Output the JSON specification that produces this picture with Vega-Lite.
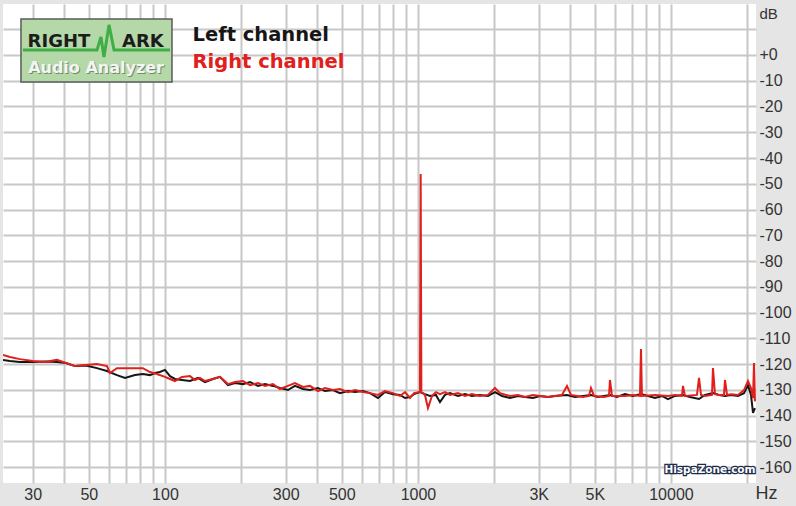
{
  "$schema": "https://vega.github.io/schema/vega-lite/v6.json",
  "width": 753,
  "height": 479,
  "autosize": {"type": "none"},
  "padding": {"left": 3, "top": 4, "right": 40, "bottom": 23},
  "background": "#e5e5e5",
  "config": {"view": {"fill": "white", "stroke": null}},
  "datasets": {
    "spectrum": [
      {"ch":"Left channel","f":22.9,"db":-118.4},{"ch":"Left channel","f":24.4,"db":-118.8},{"ch":"Left channel","f":26.7,"db":-119.2},{"ch":"Left channel","f":30.1,"db":-119.2},{"ch":"Left channel","f":33.5,"db":-119.0},{"ch":"Left channel","f":37.4,"db":-119.2},{"ch":"Left channel","f":40.6,"db":-119.6},{"ch":"Left channel","f":44.1,"db":-120.8},{"ch":"Left channel","f":48.7,"db":-120.6},{"ch":"Left channel","f":53.8,"db":-121.6},{"ch":"Left channel","f":59.0,"db":-122.7},{"ch":"Left channel","f":64.6,"db":-124.3},{"ch":"Left channel","f":69.5,"db":-125.4},{"ch":"Left channel","f":76.1,"db":-124.3},{"ch":"Left channel","f":81.8,"db":-123.9},{"ch":"Left channel","f":87.2,"db":-124.3},{"ch":"Left channel","f":91.3,"db":-123.5},{"ch":"Left channel","f":95.5,"db":-123.1},{"ch":"Left channel","f":100,"db":-122.3},{"ch":"Left channel","f":104.7,"db":-124.7},{"ch":"Left channel","f":109.5,"db":-125.8},{"ch":"Left channel","f":116.7,"db":-126.2},{"ch":"Left channel","f":125.6,"db":-126.6},{"ch":"Left channel","f":135.0,"db":-125.4},{"ch":"Left channel","f":143.9,"db":-127.0},{"ch":"Left channel","f":154.8,"db":-125.8},{"ch":"Left channel","f":165.0,"db":-125.0},{"ch":"Left channel","f":177.4,"db":-128.2},{"ch":"Left channel","f":189.1,"db":-127.4},{"ch":"Left channel","f":203.4,"db":-127.8},{"ch":"Left channel","f":216.8,"db":-127.0},{"ch":"Left channel","f":233.2,"db":-128.5},{"ch":"Left channel","f":248.5,"db":-127.8},{"ch":"Left channel","f":267.3,"db":-128.5},{"ch":"Left channel","f":284.8,"db":-129.3},{"ch":"Left channel","f":306.2,"db":-130.1},{"ch":"Left channel","f":326.4,"db":-128.5},{"ch":"Left channel","f":351.2,"db":-129.7},{"ch":"Left channel","f":374.2,"db":-130.1},{"ch":"Left channel","f":402.4,"db":-129.3},{"ch":"Left channel","f":428.9,"db":-130.5},{"ch":"Left channel","f":461.3,"db":-130.1},{"ch":"Left channel","f":491.6,"db":-131.3},{"ch":"Left channel","f":528.7,"db":-130.5},{"ch":"Left channel","f":563.6,"db":-130.9},{"ch":"Left channel","f":606.2,"db":-130.5},{"ch":"Left channel","f":646.2,"db":-131.3},{"ch":"Left channel","f":694.9,"db":-133.2},{"ch":"Left channel","f":740.7,"db":-130.9},{"ch":"Left channel","f":796.5,"db":-131.7},{"ch":"Left channel","f":848.8,"db":-132.0},{"ch":"Left channel","f":888.8,"db":-133.2},{"ch":"Left channel","f":929.8,"db":-132.8},{"ch":"Left channel","f":964.2,"db":-131.7},{"ch":"Left channel","f":1018.4,"db":-130.9},{"ch":"Left channel","f":1065.7,"db":-131.7},{"ch":"Left channel","f":1115.5,"db":-132.4},{"ch":"Left channel","f":1178.0,"db":-132.0},{"ch":"Left channel","f":1221.7,"db":-134.8},{"ch":"Left channel","f":1278.5,"db":-132.0},{"ch":"Left channel","f":1338.0,"db":-131.3},{"ch":"Left channel","f":1439,"db":-132.4},{"ch":"Left channel","f":1534,"db":-131.7},{"ch":"Left channel","f":1635,"db":-132.4},{"ch":"Left channel","f":1758,"db":-132.0},{"ch":"Left channel","f":1891,"db":-132.4},{"ch":"Left channel","f":2016,"db":-130.9},{"ch":"Left channel","f":2148,"db":-132.4},{"ch":"Left channel","f":2310,"db":-133.2},{"ch":"Left channel","f":2485,"db":-132.4},{"ch":"Left channel","f":2648,"db":-132.8},{"ch":"Left channel","f":2848,"db":-133.2},{"ch":"Left channel","f":3035,"db":-132.4},{"ch":"Left channel","f":3265,"db":-132.8},{"ch":"Left channel","f":3480,"db":-132.4},{"ch":"Left channel","f":3881,"db":-132.0},{"ch":"Left channel","f":4175,"db":-132.8},{"ch":"Left channel","f":4490,"db":-132.4},{"ch":"Left channel","f":4829,"db":-132.0},{"ch":"Left channel","f":5147,"db":-132.8},{"ch":"Left channel","f":5436,"db":-132.4},{"ch":"Left channel","f":5740,"db":-132.0},{"ch":"Left channel","f":6118,"db":-132.8},{"ch":"Left channel","f":6580,"db":-131.7},{"ch":"Left channel","f":7077,"db":-132.4},{"ch":"Left channel","f":7610,"db":-131.7},{"ch":"Left channel","f":8111,"db":-132.4},{"ch":"Left channel","f":8646,"db":-133.2},{"ch":"Left channel","f":9214,"db":-132.4},{"ch":"Left channel","f":9730,"db":-133.6},{"ch":"Left channel","f":10370,"db":-132.4},{"ch":"Left channel","f":11155,"db":-132.0},{"ch":"Left channel","f":11890,"db":-132.8},{"ch":"Left channel","f":12904,"db":-133.6},{"ch":"Left channel","f":13628,"db":-132.0},{"ch":"Left channel","f":14656,"db":-131.3},{"ch":"Left channel","f":15479,"db":-132.0},{"ch":"Left channel","f":16350,"db":-132.4},{"ch":"Left channel","f":17272,"db":-132.0},{"ch":"Left channel","f":18404,"db":-132.4},{"ch":"Left channel","f":19441,"db":-131.3},{"ch":"Left channel","f":20158,"db":-128.2},{"ch":"Left channel","f":20716,"db":-132.0},{"ch":"Left channel","f":21098,"db":-139.0},{"ch":"Left channel","f":21478,"db":-137.1},
      {"ch":"Right channel","f":22.9,"db":-116.5},{"ch":"Right channel","f":24.4,"db":-117.3},{"ch":"Right channel","f":26.7,"db":-118.1},{"ch":"Right channel","f":30.1,"db":-118.8},{"ch":"Right channel","f":33.5,"db":-119.2},{"ch":"Right channel","f":37.4,"db":-118.4},{"ch":"Right channel","f":40.6,"db":-119.6},{"ch":"Right channel","f":44.1,"db":-120.8},{"ch":"Right channel","f":48.7,"db":-120.4},{"ch":"Right channel","f":53.8,"db":-120.0},{"ch":"Right channel","f":59.0,"db":-120.8},{"ch":"Right channel","f":60.6,"db":-123.5},{"ch":"Right channel","f":64.6,"db":-121.6},{"ch":"Right channel","f":71.4,"db":-121.6},{"ch":"Right channel","f":81.8,"db":-121.6},{"ch":"Right channel","f":87.2,"db":-123.1},{"ch":"Right channel","f":92.9,"db":-123.9},{"ch":"Right channel","f":100,"db":-125.0},{"ch":"Right channel","f":104.7,"db":-125.8},{"ch":"Right channel","f":109.5,"db":-126.6},{"ch":"Right channel","f":116.7,"db":-125.0},{"ch":"Right channel","f":125.6,"db":-124.7},{"ch":"Right channel","f":131.4,"db":-126.2},{"ch":"Right channel","f":137.5,"db":-125.4},{"ch":"Right channel","f":143.9,"db":-126.6},{"ch":"Right channel","f":154.8,"db":-125.8},{"ch":"Right channel","f":165.0,"db":-125.0},{"ch":"Right channel","f":177.4,"db":-127.8},{"ch":"Right channel","f":189.1,"db":-127.0},{"ch":"Right channel","f":203.4,"db":-126.6},{"ch":"Right channel","f":216.8,"db":-128.2},{"ch":"Right channel","f":233.2,"db":-127.4},{"ch":"Right channel","f":248.5,"db":-128.5},{"ch":"Right channel","f":267.3,"db":-127.8},{"ch":"Right channel","f":284.8,"db":-129.7},{"ch":"Right channel","f":306.2,"db":-128.5},{"ch":"Right channel","f":326.4,"db":-127.4},{"ch":"Right channel","f":351.2,"db":-128.9},{"ch":"Right channel","f":374.2,"db":-128.5},{"ch":"Right channel","f":402.4,"db":-130.5},{"ch":"Right channel","f":428.9,"db":-129.3},{"ch":"Right channel","f":461.3,"db":-130.1},{"ch":"Right channel","f":491.6,"db":-129.7},{"ch":"Right channel","f":528.7,"db":-130.9},{"ch":"Right channel","f":563.6,"db":-130.1},{"ch":"Right channel","f":606.2,"db":-130.9},{"ch":"Right channel","f":646.2,"db":-131.3},{"ch":"Right channel","f":694.9,"db":-132.0},{"ch":"Right channel","f":740.7,"db":-130.5},{"ch":"Right channel","f":796.5,"db":-131.3},{"ch":"Right channel","f":848.8,"db":-132.4},{"ch":"Right channel","f":888.8,"db":-130.9},{"ch":"Right channel","f":929.8,"db":-133.2},{"ch":"Right channel","f":964.2,"db":-131.3},{"ch":"Right channel","f":1018.4,"db":-130.9},{"ch":"Right channel","f":1024.9,"db":-46.2},{"ch":"Right channel","f":1031.4,"db":-130.9},{"ch":"Right channel","f":1065.7,"db":-132.0},{"ch":"Right channel","f":1095.3,"db":-137.1},{"ch":"Right channel","f":1135.9,"db":-132.4},{"ch":"Right channel","f":1178.0,"db":-130.9},{"ch":"Right channel","f":1221.7,"db":-131.7},{"ch":"Right channel","f":1278.5,"db":-130.9},{"ch":"Right channel","f":1338.0,"db":-132.0},{"ch":"Right channel","f":1439,"db":-131.3},{"ch":"Right channel","f":1534,"db":-132.4},{"ch":"Right channel","f":1635,"db":-131.7},{"ch":"Right channel","f":1758,"db":-132.4},{"ch":"Right channel","f":1891,"db":-132.0},{"ch":"Right channel","f":2016,"db":-129.3},{"ch":"Right channel","f":2110,"db":-131.3},{"ch":"Right channel","f":2310,"db":-132.4},{"ch":"Right channel","f":2485,"db":-132.0},{"ch":"Right channel","f":2648,"db":-132.8},{"ch":"Right channel","f":2848,"db":-132.0},{"ch":"Right channel","f":3035,"db":-132.4},{"ch":"Right channel","f":3265,"db":-132.8},{"ch":"Right channel","f":3480,"db":-132.4},{"ch":"Right channel","f":3709,"db":-132.0},{"ch":"Right channel","f":3881,"db":-128.5},{"ch":"Right channel","f":4025,"db":-132.0},{"ch":"Right channel","f":4490,"db":-132.8},{"ch":"Right channel","f":4741,"db":-132.4},{"ch":"Right channel","f":4829,"db":-129.3},{"ch":"Right channel","f":4963,"db":-132.4},{"ch":"Right channel","f":5436,"db":-132.8},{"ch":"Right channel","f":5688,"db":-132.4},{"ch":"Right channel","f":5740,"db":-126.2},{"ch":"Right channel","f":5846,"db":-132.4},{"ch":"Right channel","f":6580,"db":-132.4},{"ch":"Right channel","f":7077,"db":-132.0},{"ch":"Right channel","f":7542,"db":-132.4},{"ch":"Right channel","f":7610,"db":-114.2},{"ch":"Right channel","f":7680,"db":-132.4},{"ch":"Right channel","f":8646,"db":-132.0},{"ch":"Right channel","f":9730,"db":-132.4},{"ch":"Right channel","f":10370,"db":-132.0},{"ch":"Right channel","f":11054,"db":-132.4},{"ch":"Right channel","f":11155,"db":-128.5},{"ch":"Right channel","f":11359,"db":-132.4},{"ch":"Right channel","f":12671,"db":-132.0},{"ch":"Right channel","f":12904,"db":-125.4},{"ch":"Right channel","f":13143,"db":-132.0},{"ch":"Right channel","f":13628,"db":-132.4},{"ch":"Right channel","f":14524,"db":-132.0},{"ch":"Right channel","f":14656,"db":-121.6},{"ch":"Right channel","f":14925,"db":-131.7},{"ch":"Right channel","f":15479,"db":-132.0},{"ch":"Right channel","f":16200,"db":-132.0},{"ch":"Right channel","f":16350,"db":-126.2},{"ch":"Right channel","f":16648,"db":-132.0},{"ch":"Right channel","f":17272,"db":-131.7},{"ch":"Right channel","f":18404,"db":-132.0},{"ch":"Right channel","f":19441,"db":-130.1},{"ch":"Right channel","f":20158,"db":-126.6},{"ch":"Right channel","f":20716,"db":-129.3},{"ch":"Right channel","f":21098,"db":-133.2},{"ch":"Right channel","f":21290,"db":-119.6},{"ch":"Right channel","f":21478,"db":-134.5}
    ],
    "wave": [
      {"f":27.46,"db":1.9},{"f":53.85,"db":1.9},{"f":55.85,"db":7.0},{"f":57.4,"db":-0.8},{"f":60.1,"db":11.7},{"f":62.9,"db":1.9},{"f":104.7,"db":1.9}
    ]
  },
  "encoding": {
    "x": {
      "field": "f", "type": "quantitative",
      "scale": {"type": "log", "domain": [22.9, 21680], "nice": false},
      "axis": {
        "orient": "bottom",
        "values": [30,40,50,60,70,80,90,100,200,300,400,500,600,700,800,900,1000,2000,3000,4000,5000,6000,7000,8000,9000,10000,20000],
        "labelExpr": "datum.value == 30 ? '30' : datum.value == 50 ? '50' : datum.value == 100 ? '100' : datum.value == 300 ? '300' : datum.value == 500 ? '500' : datum.value == 1000 ? '1000' : datum.value == 3000 ? '3K' : datum.value == 5000 ? '5K' : datum.value == 10000 ? '10000' : ''",
        "labelOverlap": false, "labelFlush": false, "labelBound": false,
        "grid": true, "gridColor": "#c8c8c8", "gridWidth": 2,
        "ticks": false, "domain": false,
        "labelFont": "Liberation Sans", "labelFontSize": 16, "labelColor": "#333333", "labelPadding": 3, "labelBaseline": "top",
        "title": "Hz", "titleFont": "Liberation Sans", "titleFontSize": 18, "titleFontWeight": "normal", "titleColor": "#333333",
        "titleX": 752, "titleY": 10, "titleAlign": "left", "titleBaseline": "middle"
      }
    },
    "y": {
      "field": "db", "type": "quantitative",
      "scale": {"domain": [-166.2, 19.8], "nice": false, "zero": false},
      "axis": {
        "orient": "right",
        "values": [-160,-150,-140,-130,-120,-110,-100,-90,-80,-70,-60,-50,-40,-30,-20,-10,0,10],
        "labelExpr": "datum.value > 0 ? '' : datum.value == 0 ? '+0' : '-' + (-datum.value)",
        "labelOverlap": false, "labelFlush": false, "labelBound": false,
        "grid": true, "gridColor": "#c8c8c8", "gridWidth": 2,
        "ticks": false, "domain": false,
        "labelFont": "Liberation Sans", "labelFontSize": 16, "labelColor": "#333333", "labelPadding": 3, "labelAlign": "left", "labelBaseline": "middle",
        "title": "dB", "titleFont": "Liberation Sans", "titleFontSize": 15, "titleFontWeight": "normal", "titleColor": "#333333",
        "titleAngle": 0, "titleX": 3, "titleY": 9, "titleAlign": "left", "titleBaseline": "middle"
      }
    }
  },
  "layer": [
    {
      "data": {"values": [{"f": 26.97, "f2": 106.6, "db": 14.0, "db2": -10.5}]},
      "mark": {"type": "rect", "fill": "#b4d8a8", "stroke": "#5a5a5a", "strokeWidth": 1.5},
      "encoding": {"x2": {"field": "f2"}, "y2": {"field": "db2"}}
    },
    {
      "data": {"name": "wave"},
      "mark": {"type": "line", "color": "#3fae45", "strokeWidth": 3}
    },
    {
      "data": {"values": [{"t": "RIGHT", "f": 38.1, "db": 5.0}, {"t": "ARK", "f": 81.8, "db": 5.0}]},
      "mark": {"type": "text", "font": "DejaVu Sans", "fontWeight": "bold", "fontSize": 18, "color": "#1c1c1c", "baseline": "middle", "align": "center"},
      "encoding": {"text": {"field": "t"}}
    },
    {
      "data": {"values": [{"t": "Audio Analyzer", "f": 53.4, "db": -5.0}]},
      "mark": {"type": "text", "font": "DejaVu Sans", "fontWeight": "bold", "fontSize": 16, "color": "#6f8f66", "baseline": "middle", "align": "center", "dx": 1, "dy": 1},
      "encoding": {"text": {"field": "t"}}
    },
    {
      "data": {"values": [{"t": "Audio Analyzer", "f": 53.4, "db": -5.0}]},
      "mark": {"type": "text", "font": "DejaVu Sans", "fontWeight": "bold", "fontSize": 16, "color": "#f4f4f4", "baseline": "middle", "align": "center"},
      "encoding": {"text": {"field": "t"}}
    },
    {
      "data": {"name": "spectrum"},
      "transform": [{"filter": "datum.ch == 'Left channel'"}],
      "mark": {"type": "line", "strokeWidth": 2, "clip": true},
      "encoding": {
        "color": {
          "field": "ch", "type": "nominal",
          "scale": {"domain": ["Left channel", "Right channel"], "range": ["#161616", "#e0201c"]},
          "legend": {
            "orient": "none", "legendX": 170, "legendY": 21, "title": null,
            "symbolSize": 0, "symbolOpacity": 0, "symbolStrokeWidth": 0, "labelOffset": 0,
            "labelFont": "DejaVu Sans", "labelFontSize": 19.5, "labelFontWeight": "bold", "rowPadding": 6,
            "labelLimit": 300,
            "encode": {"labels": {"update": {"fill": {"scale": "color", "field": "value"}}}}
          }
        }
      }
    },
    {
      "data": {"name": "spectrum"},
      "transform": [{"filter": "datum.ch == 'Right channel'"}],
      "mark": {"type": "line", "strokeWidth": 2, "clip": true},
      "encoding": {
        "color": {"field": "ch", "type": "nominal", "scale": {"domain": ["Left channel", "Right channel"], "range": ["#161616", "#e0201c"]}}
      }
    },
    {
      "data": {"values": [{"t": "HispaZone.com", "f": 14264, "db": -161.2}]},
      "mark": {"type": "text", "font": "DejaVu Sans", "fontWeight": "bold", "fontSize": 10.5, "color": "#1d2b4a", "stroke": "#1d2b4a", "strokeWidth": 2.5, "baseline": "middle", "align": "center"},
      "encoding": {"text": {"field": "t"}}
    },
    {
      "data": {"values": [{"t": "HispaZone.com", "f": 14264, "db": -161.2}]},
      "mark": {"type": "text", "font": "DejaVu Sans", "fontWeight": "bold", "fontSize": 10.5, "color": "#ffffff", "baseline": "middle", "align": "center"},
      "encoding": {"text": {"field": "t"}}
    }
  ]
}
